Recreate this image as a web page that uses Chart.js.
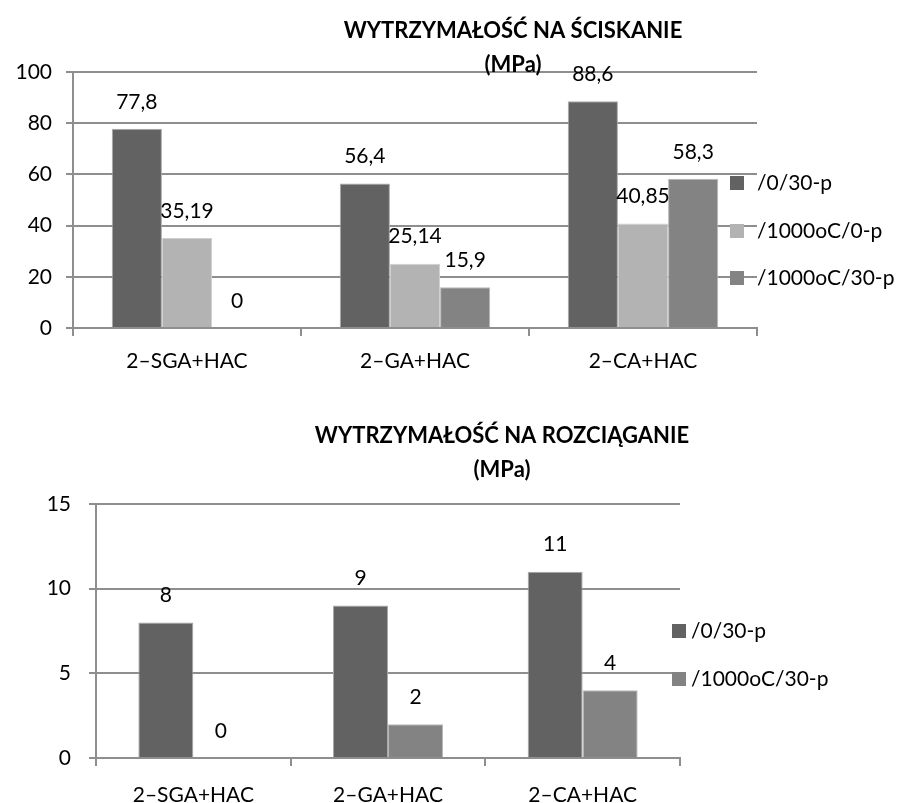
<!DOCTYPE html>
<html>
<head>
<meta charset="utf-8">
<script src="https://cdn.jsdelivr.net/npm/chart.js@4.4.1/dist/chart.umd.min.js"></script>
<style>
  html, body { margin: 0; padding: 0; background: #ffffff; }
  #wrap { position: relative; width: 910px; height: 803px; }
  #c1 { position: absolute; left: 0; top: 0; }
  #c2 { position: absolute; left: 0; top: 400px; }
</style>
</head>
<body>
<div id="wrap">
  <canvas id="c1" width="910" height="400"></canvas>
  <canvas id="c2" width="910" height="403"></canvas>
</div>
<script>
// ---- data ----
const categories = ['2–SGA+HAC', '2–GA+HAC', '2–CA+HAC'];
const seriesNames = ['/0/30-p', '/1000oC/0-p', '/1000oC/30-p'];

// compressive strength (MPa)
const compression_0_30 = [77.8, 56.4, 88.6];
const compression_1000_0 = [35.19, 25.14, 40.85];
const compression_1000_30 = [0, 15.9, 58.3];

// tensile strength (MPa)
const tensile_0_30 = [8, 9, 11];
const tensile_1000_30 = [0, 2, 4];

const compressionTitle = ['WYTRZYMAŁOŚĆ NA ŚCISKANIE', '(MPa)'];
const tensileTitle = ['WYTRZYMAŁOŚĆ NA ROZCIĄGANIE', '(MPa)'];

// ---- styling ----
const FONT = 'Lato, "Open Sans", sans-serif';
const DARK = '#626262';
const LIGHT = '#b3b3b3';
const MID = '#838383';
const GRID = '#8e8e8e';

Chart.defaults.font.family = FONT;
Chart.defaults.color = '#000000';
Chart.defaults.animation = false;

function fmt(v) {
  return String(v).replace('.', ',');
}

// centered two-line title
const titleLines = {
  id: 'titleLines',
  afterDraw(chart, args, opts) {
    const ctx = chart.ctx;
    ctx.save();
    ctx.fillStyle = '#000';
    ctx.font = 'bold ' + opts.size + 'px ' + FONT;
    ctx.textAlign = 'center';
    ctx.textBaseline = 'middle';
    opts.lines.forEach((t, i) => ctx.fillText(t, opts.x, opts.ys[i]));
    ctx.restore();
  }
};

// value written above each bar
const valueLabels = {
  id: 'valueLabels',
  afterDatasetsDraw(chart, args, opts) {
    const ctx = chart.ctx;
    ctx.save();
    ctx.fillStyle = '#000';
    ctx.font = opts.size + 'px ' + FONT;
    ctx.textAlign = 'center';
    ctx.textBaseline = 'middle';
    chart.data.datasets.forEach((ds, di) => {
      chart.getDatasetMeta(di).data.forEach((el, i) => {
        ctx.fillText(fmt(ds.data[i]), el.x, el.y - opts.offset);
      });
    });
    ctx.restore();
  }
};

// legend with square keys, laid over the right end of the plot
const squareLegend = {
  id: 'squareLegend',
  afterDraw(chart, args, opts) {
    const ctx = chart.ctx;
    ctx.save();
    ctx.font = opts.size + 'px ' + FONT;
    ctx.textAlign = 'left';
    ctx.textBaseline = 'middle';
    chart.data.datasets.forEach((ds, i) => {
      const y = opts.ys[i];
      ctx.fillStyle = ds.backgroundColor;
      ctx.fillRect(opts.boxX, y - opts.box / 2, opts.box, opts.box);
      ctx.fillStyle = '#000';
      ctx.fillText(ds.label, opts.textX, y);
    });
    ctx.restore();
  }
};

function makeChart(canvasId, datasets, yMax, yStep, catPct, geo) {
  return new Chart(document.getElementById(canvasId), {
    type: 'bar',
    data: { labels: categories, datasets: datasets },
    plugins: [titleLines, valueLabels, squareLegend],
    options: {
      responsive: false,
      layout: { padding: { left: 0, right: geo.padRight, top: geo.padTop, bottom: 0 } },
      datasets: { bar: { categoryPercentage: catPct, barPercentage: 1, borderWidth: 1 } },
      scales: {
        x: {
          grid: { offset: true, drawOnChartArea: false, drawTicks: true, tickLength: 8, color: GRID, lineWidth: 2 },
          border: { color: GRID, width: 2 },
          ticks: { font: { size: 21 }, color: '#000', padding: geo.xPad, maxRotation: 0 },
          afterFit(s) { s.height = geo.xHeight; }
        },
        y: {
          min: 0, max: yMax,
          grid: { color: GRID, lineWidth: 2, tickLength: 7 },
          border: { color: GRID, width: 2 },
          ticks: { stepSize: yStep, font: { size: 21 }, color: '#000', padding: geo.tickPad },
          afterFit(s) { s.width = geo.yWidth; }
        }
      },
      plugins: {
        legend: { display: false },
        tooltip: { enabled: false },
        titleLines: { lines: geo.title, x: geo.titleX, ys: geo.titleYs, size: 22 },
        valueLabels: { size: 21, offset: 27 },
        squareLegend: { size: 21, box: 14, boxX: geo.boxX, textX: geo.textX, ys: geo.legendYs }
      }
    }
  });
}

makeChart('c1', [
  { label: seriesNames[0], data: compression_0_30, backgroundColor: DARK, borderColor: '#a9a9a9' },
  { label: seriesNames[1], data: compression_1000_0, backgroundColor: LIGHT, borderColor: '#d0d0d0' },
  { label: seriesNames[2], data: compression_1000_30, backgroundColor: MID, borderColor: '#b8b8b8' }
], 100, 20, 0.66, {
  padRight: 153, padTop: 72, xHeight: 72, yWidth: 73, tickPad: 14, xPad: 13,
  title: compressionTitle, titleX: 513, titleYs: [31, 65],
  boxX: 730, textX: 757, legendYs: [183, 231, 278]
});

makeChart('c2', [
  { label: seriesNames[0], data: tensile_0_30, backgroundColor: DARK, borderColor: '#a9a9a9' },
  { label: seriesNames[2], data: tensile_1000_30, backgroundColor: MID, borderColor: '#b8b8b8' }
], 15, 5, 0.565, {
  padRight: 230, padTop: 104, xHeight: 45, yWidth: 96, tickPad: 18, xPad: 17,
  title: tensileTitle, titleX: 502, titleYs: [36, 70],
  boxX: 672, textX: 691, legendYs: [231, 279]
});
</script>
</body>
</html>
